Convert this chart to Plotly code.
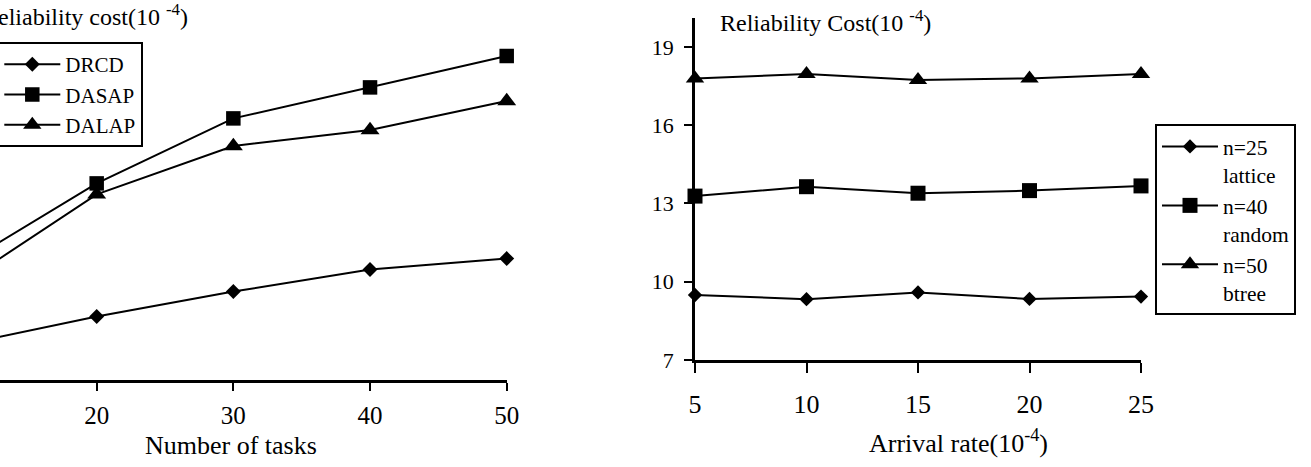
import plotly.graph_objects as go

# ---- data ----
tasks = [10, 20, 30, 40, 50]
drcd = [1.75, 3.17, 4.42, 5.53, 6.07]
dasap = [5.70, 9.83, 13.08, 14.63, 16.20]
dalap = [4.76, 9.28, 11.70, 12.50, 13.95]

arrival = [5, 10, 15, 20, 25]
n25 = [9.49, 9.33, 9.59, 9.34, 9.43]
n40 = [13.28, 13.64, 13.39, 13.49, 13.67]
n50 = [17.79, 17.96, 17.73, 17.79, 17.96]

left_names = ["DRCD", "DASAP", "DALAP"]
right_names = ["n=25<br>lattice", "n=40<br>random", "n=50<br>btree"]
left_ticks = [10, 20, 30, 40, 50]
right_xticks = [5, 10, 15, 20, 25]
right_yticks = [7, 10, 13, 16, 19]

W, H = 1311, 467
FONT = "Liberation Serif, Times New Roman, serif"
BLACK = "#000000"

def px(x):
    return x / W

def py(y):
    return (H - y) / H

fig = go.Figure()

sym_left = ["diamond", "square", "triangle-up"]
size_left = [11.5, 14.5, 16.5]
for ys, nm, sy, sz in zip([drcd, dasap, dalap], left_names, sym_left, size_left):
    fig.add_trace(go.Scatter(
        x=tasks, y=ys, name=nm, mode="lines+markers",
        line=dict(color=BLACK, width=2),
        marker=dict(symbol=sy, size=sz, color=BLACK),
        cliponaxis=False, xaxis="x", yaxis="y", legend="legend"))

sym_right = ["diamond", "square", "triangle-up"]
size_right = [11, 15, 16]
for ys, nm, sy, sz in zip([n25, n40, n50], right_names, sym_right, size_right):
    fig.add_trace(go.Scatter(
        x=arrival, y=ys, name=nm, mode="lines+markers",
        line=dict(color=BLACK, width=2),
        marker=dict(symbol=sy, size=sz, color=BLACK),
        cliponaxis=False, xaxis="x2", yaxis="y2", legend="legend2"))

x1_range = [20 - 96.7 / 13.67, 50]
y1_range = [0, 18]
x2_range = [5, 25]
y2_range = [7, 7 + 342 / 26.1]

fig.update_layout(
    width=W, height=H,
    margin=dict(l=0, r=0, t=0, b=0, autoexpand=False),
    paper_bgcolor="white", plot_bgcolor="white",
    font=dict(family=FONT, color=BLACK),
    xaxis=dict(domain=[0, px(506.7)], range=x1_range, anchor="y",
               showgrid=False, zeroline=False, showline=True, linecolor=BLACK, linewidth=2.5,
               tickmode="array", tickvals=left_ticks, ticks="outside", ticklen=8, tickwidth=2,
               tickcolor=BLACK, tickfont=dict(size=25, family=FONT), ticklabelstandoff=3),
    xaxis3=dict(overlaying="x", range=x1_range, anchor="y", domain=[0, px(506.7)],
                showgrid=False, zeroline=False, showline=False,
                tickmode="array", tickvals=left_ticks, ticks="inside", ticklen=8, tickwidth=2,
                tickcolor=BLACK, showticklabels=False),
    yaxis=dict(domain=[py(380), py(20)], range=y1_range, anchor="x",
               visible=False, showgrid=False, zeroline=False),
    xaxis2=dict(domain=[px(695), px(1141)], range=x2_range, anchor="y2",
                showgrid=False, zeroline=False, showline=True, linecolor=BLACK, linewidth=2.5,
                tickmode="array", tickvals=right_xticks, ticks="outside", ticklen=10, tickwidth=2,
                tickcolor=BLACK, tickfont=dict(size=26, family=FONT), ticklabelstandoff=9),
    xaxis4=dict(overlaying="x2", range=x2_range, anchor="y2", domain=[px(695), px(1141)],
                showgrid=False, zeroline=False, showline=False,
                tickmode="array", tickvals=right_xticks, ticks="inside", ticklen=10, tickwidth=2,
                tickcolor=BLACK, showticklabels=False),
    yaxis2=dict(domain=[py(360), py(18)], range=y2_range, anchor="x2",
                showgrid=False, zeroline=False, showline=True, linecolor=BLACK, linewidth=2.5,
                tickmode="array", tickvals=right_yticks, ticks="outside", ticklen=8, tickwidth=2,
                tickcolor=BLACK, tickfont=dict(size=22, family=FONT), ticklabelstandoff=6),
    yaxis4=dict(overlaying="y2", range=y2_range, anchor="x2", domain=[py(360), py(18)],
                showgrid=False, zeroline=False, showline=False,
                tickmode="array", tickvals=right_yticks, ticks="inside", ticklen=8, tickwidth=2,
                tickcolor=BLACK, showticklabels=False),
    legend=dict(x=px(143.3), xanchor="right", y=py(42), yanchor="top",
                bordercolor=BLACK, borderwidth=2, bgcolor="rgba(255,255,255,0)",
                font=dict(size=21, family=FONT), itemwidth=56, tracegroupgap=0),
    legend2=dict(x=px(1155), xanchor="left", y=py(124), yanchor="top",
                 bordercolor=BLACK, borderwidth=2, bgcolor="rgba(255,255,255,0)",
                 font=dict(size=21.5, family=FONT), itemwidth=56, valign="top", tracegroupgap=0),
    showlegend=True,
)

ann = [
    dict(text="Reliability cost(10 <sup>-4</sup>)", x=px(190), y=py(15), xanchor="right",
         yanchor="middle", font=dict(size=24)),
    dict(text="Number of tasks", x=px(230.7), y=py(445), xanchor="center",
         yanchor="middle", font=dict(size=26)),
    dict(text="Reliability Cost(10 <sup>-4</sup>)", x=px(718), y=py(21), xanchor="left",
         yanchor="middle", font=dict(size=24)),
    dict(text="Arrival rate(10<sup>-4</sup>)", x=px(958.5), y=py(441), xanchor="center",
         yanchor="middle", font=dict(size=26)),
]
for a in ann:
    a.update(xref="paper", yref="paper", showarrow=False)
    a["font"].update(family=FONT, color=BLACK)
fig.update_layout(annotations=ann)

fig.write_html("out.html")
